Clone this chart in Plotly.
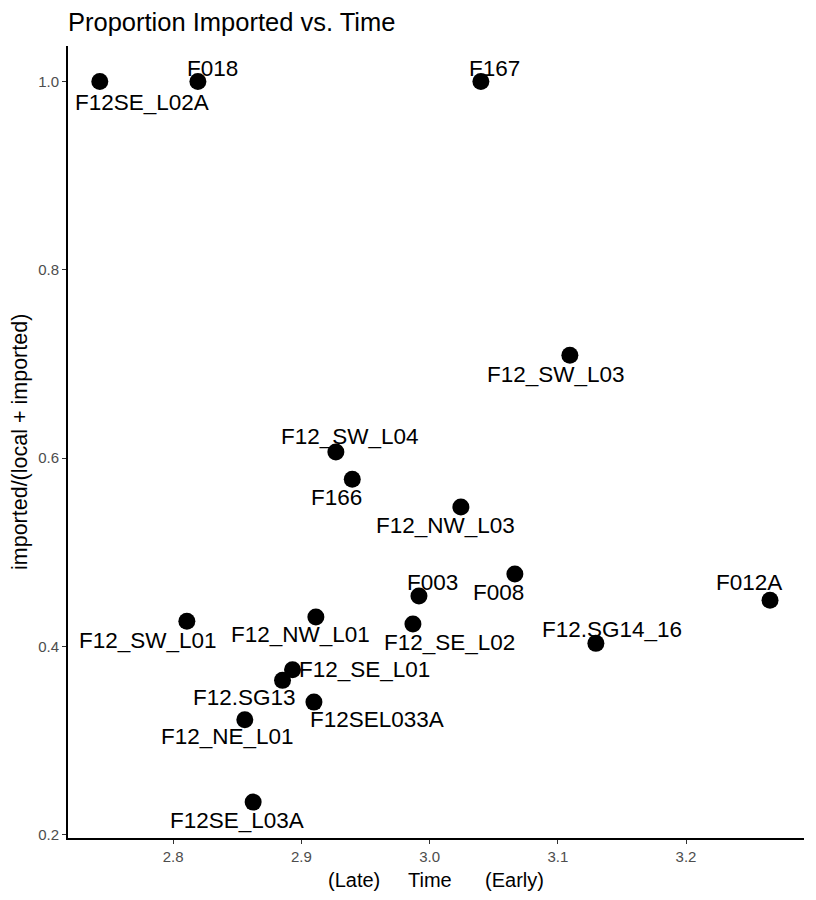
import plotly.graph_objects as go

# Data
sites = ["F12SE_L02A", "F018", "F167", "F12_SW_L03", "F12_SW_L04", "F166",
         "F12_NW_L03", "F008", "F003", "F12_NW_L01", "F12_SE_L02", "F12_SE_L01",
         "F12.SG13", "F12SEL033A", "F12_NE_L01", "F12SE_L03A", "F12_SW_L01",
         "F012A", "F12.SG14_16"]
time_vals = [2.7428, 2.8193, 3.0400, 3.1094, 2.9269, 2.9397,
             3.0244, 3.0665, 2.9917, 2.9113, 2.9870, 2.8931,
             2.8853, 2.9098, 2.8559, 2.8624, 2.8107,
             3.2655, 3.1297]
prop_imported = [1.0, 1.0, 1.0, 0.7094, 0.6066, 0.5776,
                 0.5481, 0.4769, 0.4536, 0.4313, 0.4238, 0.3753,
                 0.3640, 0.3409, 0.3222, 0.2347, 0.4267,
                 0.4490, 0.4033]
# label offsets (pixels, right / up) mimicking repelled labels
label_dx = [42, 15, 14, -14, 14, -16, -15, -16, 14, -15, 37, 72, -38, 63, -17, -16, -39, -21, 16]
label_dy = [-21, 13, 13, -19, 15, -18, -18, -18, 14, -17, -18, 0, -17, -17, -17, -18, -19, 18, 14]

x_ticks = [2.8, 2.9, 3.0, 3.1, 3.2]
y_ticks = [0.2, 0.4, 0.6, 0.8, 1.0]

x_title = "(Late)" + "\u00a0" * 5 + "Time" + "\u00a0" * 6 + "(Early)"
y_title = "imported/(local + imported)"

FONT = "Liberation Sans, Arial, sans-serif"

# page body has an 8px margin; the figure is sized/offset to compensate
W, H = 808, 892
ML, MR, MT, MB = 60, 12, 38, 62

fig = go.Figure()
fig.add_trace(go.Scatter(
    x=time_vals, y=prop_imported, mode="markers",
    marker=dict(size=17, color="black"),
    text=sites, hoverinfo="text", showlegend=False,
))

for s, xv, yv, dx, dy in zip(sites, time_vals, prop_imported, label_dx, label_dy):
    fig.add_annotation(x=xv, y=yv, xref="x", yref="y", text=s, showarrow=False,
                       xshift=dx, yshift=dy, xanchor="center", yanchor="middle",
                       font=dict(family=FONT, size=22.5, color="black"))

# axis titles
fig.add_annotation(x=0.5, y=0, xref="paper", yref="paper", text=x_title, showarrow=False,
                   xanchor="center", yanchor="middle", yshift=-42,
                   font=dict(family=FONT, size=20, color="black"))
fig.add_annotation(x=0, y=0.5, xref="paper", yref="paper", text=y_title, showarrow=False,
                   textangle=-90, xanchor="center", yanchor="middle", xshift=-48,
                   font=dict(family=FONT, size=21.5, color="black"))

fig.update_layout(
    width=W, height=H,
    paper_bgcolor="white", plot_bgcolor="white",
    margin=dict(l=ML, r=MR, t=MT, b=MB, autoexpand=False),
    title=dict(text="Proportion Imported vs. Time", x=0, xref="paper", xanchor="left",
               y=1 - 14 / H, yref="container", yanchor="middle",
               font=dict(family=FONT, size=25.5, color="black")),
    xaxis=dict(range=[2.718, 3.292], tickvals=x_ticks, ticktext=[f"{v:.1f}" for v in x_ticks],
               automargin=False,
               showgrid=False, zeroline=False, showline=True, linecolor="black", linewidth=2,
               ticks="outside", ticklen=4, tickcolor="#333333", tickwidth=1,
               tickfont=dict(family=FONT, size=15, color="#4D4D4D")),
    yaxis=dict(range=[0.1966, 1.0377], tickvals=y_ticks, ticktext=[f"{v:.1f}" for v in y_ticks],
               automargin=False,
               showgrid=False, zeroline=False, showline=True, linecolor="black", linewidth=2,
               ticks="outside", ticklen=4, tickcolor="#333333", tickwidth=1,
               tickfont=dict(family=FONT, size=15, color="#4D4D4D")),
)

fig.write_html("out.html")
